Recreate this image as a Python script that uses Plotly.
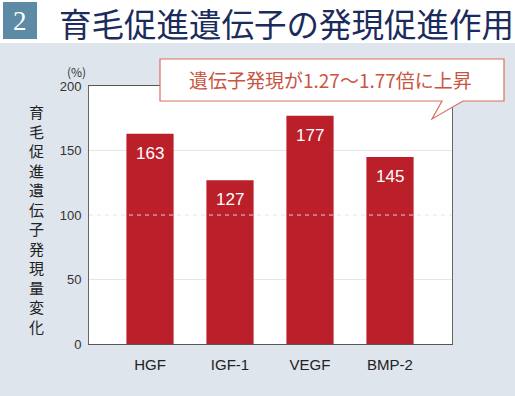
import plotly.graph_objects as go

categories = ["HGF", "IGF-1", "VEGF", "BMP-2"]
values = [163, 127, 177, 145]
y_ticks = [0, 50, 100, 150, 200]
title_text = "育毛促進遺伝子の発現促進作用"
y_title = "育毛促進遺伝子発現量変化"
callout_text = "遺伝子発現が1.27～1.77倍に上昇"

W, H = 515, 396
def px(x):
    return x / W
def py(y):
    return 1 - y / H

BAR = "#bb1f2a"
BG = "#dee5ed"

fig = go.Figure()
fig.add_trace(go.Bar(
    x=list(range(len(categories))), y=values,
    marker=dict(color=BAR, line=dict(width=0)),
    width=0.59, hoverinfo="skip",
))

def ann(**kw):
    kw.setdefault("showarrow", False)
    kw.setdefault("xanchor", "center")
    kw.setdefault("yanchor", "middle")
    fig.add_annotation(**kw)

# value labels
for i, v in enumerate(values):
    ann(x=i, y=v, xref="x", yref="y", text=str(v), yanchor="top", yshift=-8,
        font=dict(family="Liberation Sans, Arial", size=17, color="white"))

shapes = []
# white header band
shapes.append(dict(type="rect", xref="paper", yref="paper", x0=0, x1=1, y0=py(43), y1=1,
                   fillcolor="white", line=dict(width=0), layer="below"))
# number box
shapes.append(dict(type="rect", xref="paper", yref="paper", x0=px(3), x1=px(37), y0=py(39), y1=py(2),
                   fillcolor="#5d8aa5", line=dict(width=0), layer="below"))
# grid lines
for g in [50, 150]:
    shapes.append(dict(type="line", xref="paper", yref="y", x0=px(89), x1=px(452), y0=g, y1=g,
                       line=dict(color="#e6e6e6", width=1), layer="below"))
shapes.append(dict(type="line", xref="paper", yref="y", x0=px(89), x1=px(452), y0=100, y1=100,
                   line=dict(color="rgba(225,225,225,0.9)", width=1, dash="4px,4px"), layer="above"))
# callout
pts = [(160, 59), (504, 59), (504, 101), (463, 101), (432, 119), (442, 101), (160, 101)]
path = "M " + " L ".join(f"{px(a):.5f},{py(b):.5f}" for a, b in pts) + " Z"
shapes.append(dict(type="path", xref="paper", yref="paper", path=path,
                   fillcolor="white", line=dict(color="#d8705e", width=1.2), layer="above"))
fig.update_layout(shapes=shapes)

# title
ann(xref="paper", yref="paper", x=px(20), y=py(21), text="2",
    font=dict(family="Liberation Serif, serif", size=27, color="white"))
ann(xref="paper", yref="paper", x=px(57), y=py(22), text=title_text, xanchor="left",
    font=dict(family="Noto Sans CJK JP", size=32.5, color="#1b2c5c"))
# callout text
ann(xref="paper", yref="paper", x=px(330), y=py(80), text=callout_text,
    font=dict(family="Noto Sans CJK JP", size=19, color="#c9553f"))
# y axis title
ann(xref="paper", yref="paper", x=px(37), y=py(219), text="<br>".join(y_title),
    font=dict(family="Noto Sans CJK JP", size=15, color="#222"))
# (%) unit
ann(xref="paper", yref="paper", x=px(76), y=py(71), text="(%)",
    font=dict(family="Noto Sans CJK JP", size=12, color="#333"))

fig.update_layout(
    width=W, height=H, margin=dict(l=0, r=0, t=0, b=0, pad=0, autoexpand=False),
    paper_bgcolor=BG, plot_bgcolor="white", showlegend=False,
    xaxis=dict(domain=[px(89), px(452)], range=[-0.7625, 3.775], tickmode="array",
               tickvals=list(range(len(categories))), ticktext=categories, automargin=False,
               showgrid=False, zeroline=False, showline=True, mirror=True,
               linecolor="#555", linewidth=1, ticks="", ticklabelstandoff=7,
               tickfont=dict(family="Liberation Sans, Arial", size=15, color="#222"), fixedrange=True),
    yaxis=dict(domain=[1 - 344 / H, 1 - 86 / H], range=[0, 200], tickvals=y_ticks, automargin=False,
               showgrid=False, zeroline=False, showline=True, mirror=True,
               linecolor="#666", linewidth=1, ticks="", ticklabelstandoff=4,
               tickfont=dict(family="Liberation Sans, Arial", size=13, color="#333"), fixedrange=True),
)

fig.write_html("out.html")
